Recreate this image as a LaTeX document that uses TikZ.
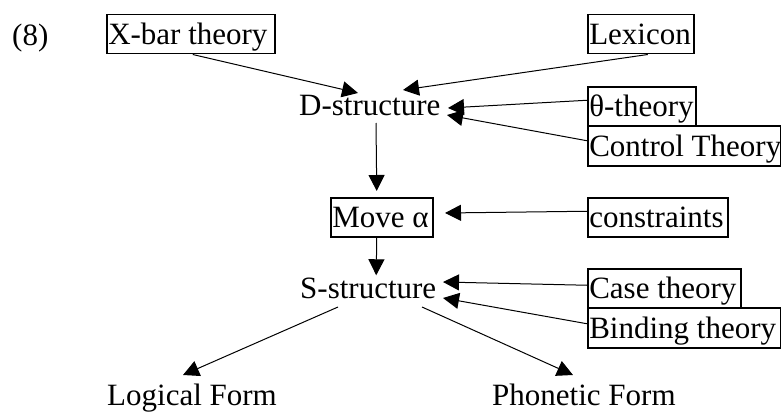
\documentclass[tikz,border=0pt]{standalone}
\usepackage{fontspec}
\setmainfont{Liberation Serif}
\usetikzlibrary{arrows.meta,calc}
\newcommand{\bxt}[2]{\makebox[#1][l]{#2}}
\tikzset{
  bx/.style={draw, line width=1.5pt, inner xsep=1.5pt, inner ysep=0pt, anchor=north west,
    text height=30pt, text depth=9pt, font=\fontsize{31}{36}\selectfont},
  lbl/.style={inner sep=0pt, anchor=base west, font=\fontsize{31}{36}\selectfont},
  arr/.style={line width=1pt, -{Triangle[length=16pt,width=16pt]}}
}
\begin{document}
\begin{tikzpicture}[x=1pt,y=-1pt]
\useasboundingbox (0,0) rectangle (781,412);
\node[lbl] (num) at (12,46) {(8)};
\node[bx] (xbar) at (106,14) {\bxt{165pt}{X-bar theory}};
\node[bx] (lex) at (587,14) {\bxt{103pt}{Lexicon}};
\node[bx] (theta) at (587,86) {\bxt{105pt}{θ-theory}};
\node[bx, text height=31pt] (ctrl) at (587,125) {\bxt{190pt}{Control Theory}};
\node[bx] (move) at (330,197) {\bxt{99pt}{Move α}};
\node[bx] (cons) at (587,197) {\bxt{137pt}{constraints}};
\node[bx] (case) at (587,268) {\bxt{150pt}{Case theory}};
\node[bx, text height=31pt] (bind) at (587,307) {\bxt{190pt}{Binding theory}};
\node[lbl] (dstr) at (299,115) {D-structure};
\node[lbl] (sstr) at (300,298) {S-structure};
\node[lbl] (lf) at (107,405) {Logical Form};
\node[lbl] (pf) at (492,405) {Phonetic Form};
% arrow tips and free ends
\coordinate (dxbar) at (358,93);
\coordinate (dlex) at (403,90);
\coordinate (dtheta) at (448,108);
\coordinate (dctrl) at (447,115);
\coordinate (mcons) at (445,213);
\coordinate (scase) at (443,282);
\coordinate (sbind) at (443,298);
\coordinate (dbot) at (376,123);
\coordinate (sbotl) at (338,307);
\coordinate (sbotr) at (422,307);
\coordinate (lftip) at (183,375);
\coordinate (pftip) at (573,375);
\draw[arr] ($(xbar.south)+(2,0)$) -- (dxbar);
\draw[arr] ($(lex.south)+(7,0)$) -- (dlex);
\draw[arr] ($(theta.west)+(0,-6)$) -- (dtheta);
\draw[arr] ($(ctrl.west)+(0,-5)$) -- (dctrl);
\draw[arr] (dbot) -- ($(move.north)+(-5,-6)$);
\draw[arr] ($(cons.west)+(0,-6)$) -- (mcons);
\draw[arr] ($(move.south)+(-5,0)$) -- ($(sstr.north)+(8,-2)$);
\draw[arr] ($(case.west)+(0,-3)$) -- (scase);
\draw[arr] ($(bind.west)+(0,-4)$) -- (sbind);
\draw[arr] (sbotl) -- (lftip);
\draw[arr] (sbotr) -- (pftip);
\end{tikzpicture}
\end{document}
